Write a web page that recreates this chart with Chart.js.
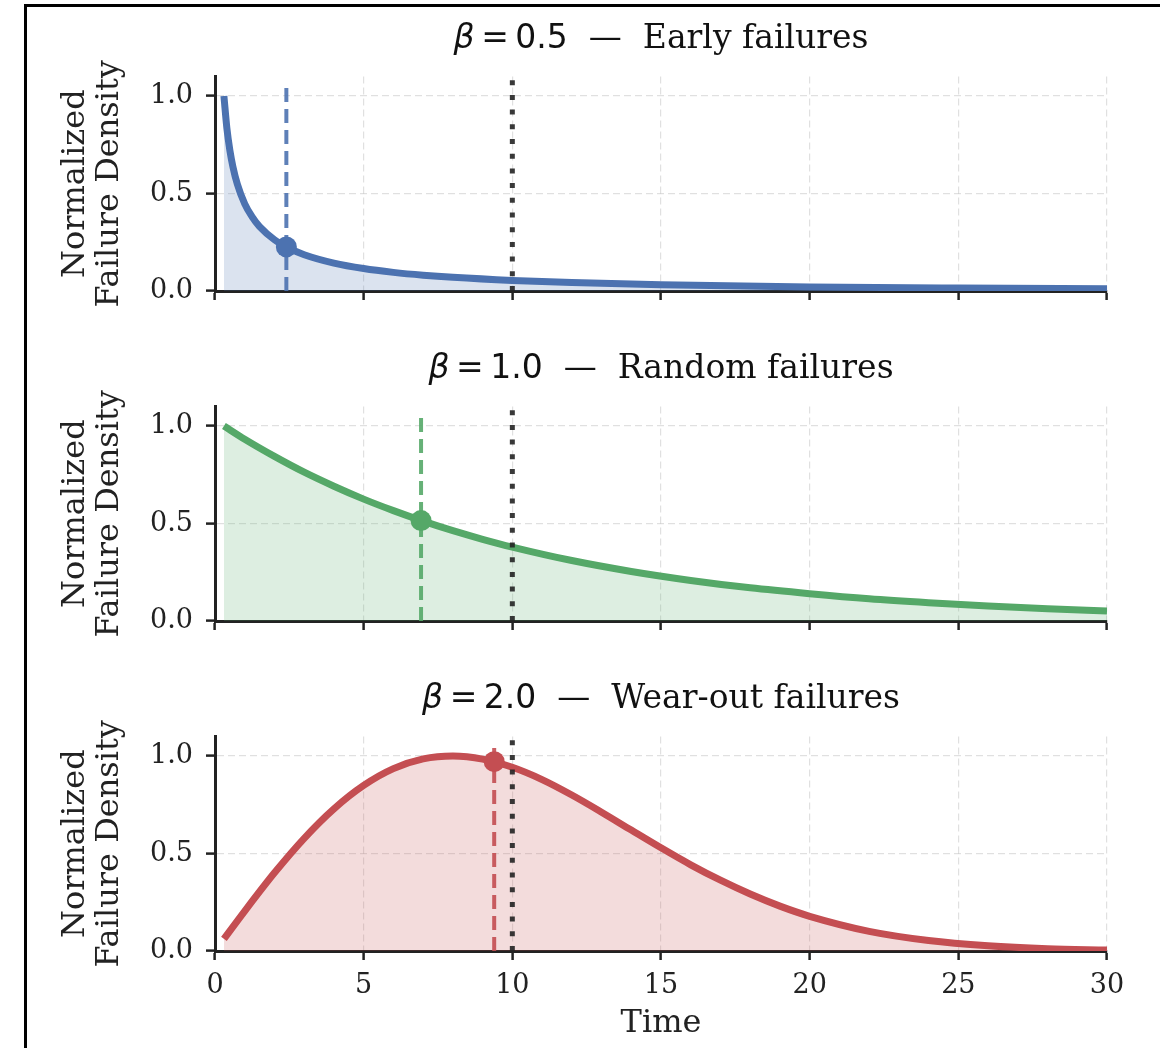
<!DOCTYPE html>
<html><head><meta charset="utf-8">
<script src="https://cdn.jsdelivr.net/npm/chart.js@4/dist/chart.umd.min.js"></script>
<style>
html,body{margin:0;padding:0;background:#fff;width:1160px;height:1048px;overflow:hidden;position:relative}
#frame{position:absolute;left:24px;top:4px;width:1200px;height:1100px;border-left:3px solid #000;border-top:3px solid #000;box-sizing:border-box}
canvas{position:absolute;left:0}
</style></head><body>
<div id="frame"></div>
<canvas id="c0" width="1160" height="330" style="top:0px"></canvas>
<canvas id="c1" width="1160" height="330" style="top:330px"></canvas>
<canvas id="c2" width="1160" height="388" style="top:660px"></canvas>
<script>
// ---- data ----
const xTicks = [0, 5, 10, 15, 20, 25, 30];
const yTicks = [0, 0.5, 1.0];

const timeEarly = [0.3,0.4,0.5,0.6,0.75,1,1.25,1.5,2,2.5,3,4,5,6,7,8,10,12,15,20,25,30];
const densEarly = [1.000,0.834,0.721,0.639,0.549,0.447,0.380,0.330,0.263,0.218,0.186,0.143,0.115,0.0955,0.081,0.070,0.054,0.043,0.032,0.021,0.015,0.011];

const timeRandom = [0.3,1,2,3,4,5,6,7,8,9,10,12,14,16,18,20,22,24,26,28,30];
const densRandom = [1.000,0.932,0.844,0.763,0.691,0.625,0.566,0.512,0.463,0.419,0.379,0.310,0.254,0.208,0.170,0.140,0.114,0.094,0.077,0.063,0.051];

const timeWear = [0.3,1,2,3,4,5,6,7,8,9,10,11,12,13,14,15,16,17,18,19,20,22,24,26,28,30];
const densWear = [0.062,0.205,0.401,0.578,0.729,0.849,0.935,0.985,1.000,0.984,0.942,0.879,0.800,0.712,0.620,0.529,0.442,0.363,0.292,0.230,0.178,0.101,0.054,0.027,0.012,0.005];

const medianTimes = [2.40, 6.93, 9.39];
const medianValues = [0.226, 0.515, 0.971];
const meanTime = 10;
const medianLineTop = 1.045;
const yMax = 1.1;

const betaValues = ['0.5', '1.0', '2.0'];
const regimeNames = ['Early failures', 'Random failures', 'Wear-out failures'];
const yAxisTitle = ['Normalized', 'Failure Density'];
const xAxisTitle = 'Time';

// ---- styles ----
const lineColors = ['#4C72B0', '#55A868', '#C44E52'];
const fillColors = ['rgba(76,114,176,0.2)', 'rgba(85,168,104,0.2)', 'rgba(196,78,82,0.2)'];
const dashColors = ['rgba(76,114,176,0.9)', 'rgba(85,168,104,0.9)', 'rgba(196,78,82,0.9)'];
const SERIF = '"DejaVu Serif", serif';
const SANS = '"DejaVu Sans", sans-serif';

const mixedTitle = {
  id: 'mixedTitle',
  afterDraw(chart, args, opts) {
    const ctx = chart.ctx;
    const {left, right} = chart.chartArea;
    const parts = opts.parts;
    ctx.save();
    ctx.textBaseline = 'alphabetic';
    ctx.textAlign = 'left';
    ctx.fillStyle = '#111';
    let total = 0;
    const widths = parts.map(p => { ctx.font = p.font; const w = ctx.measureText(p.text).width; total += w; return w; });
    let x = (left + right) / 2 - total / 2;
    parts.forEach((p, k) => { ctx.font = p.font; ctx.fillText(p.text, x, opts.baseline); x += widths[k]; });
    ctx.restore();
  }
};

const series = [[timeEarly, densEarly], [timeRandom, densRandom], [timeWear, densWear]];

function makeChart(i) {
  const isBottom = i === 2;
  const [times, vals] = series[i];
  const gridCfg = {color: 'rgba(0,0,0,0.12)', lineWidth: 1.2, drawTicks: true, tickLength: 9, tickColor: '#222', tickWidth: 2.5};
  const borderCfg = {display: true, color: '#222', width: 3, dash: [7, 4]};
  return new Chart(document.getElementById('c' + i), {
    type: 'line',
    data: {
      datasets: [
        {label: 'mean', data: [{x: meanTime, y: 0}, {x: meanTime, y: yMax}], borderColor: 'rgba(35,35,35,0.9)', borderWidth: 5, borderDash: [5, 9.7], borderCapStyle: 'butt', pointRadius: 0, fill: false, order: 0},
        {label: 'median', data: [{x: medianTimes[i], y: medianValues[i]}], showLine: false, pointRadius: 10.5, pointHoverRadius: 10.5, pointBackgroundColor: lineColors[i], pointBorderColor: lineColors[i], pointBorderWidth: 0, order: 1},
        {label: 'median line', data: [{x: medianTimes[i], y: 0}, {x: medianTimes[i], y: medianLineTop}], borderColor: dashColors[i], borderWidth: 4, borderDash: [14, 7], borderCapStyle: 'butt', pointRadius: 0, fill: false, order: 2},
        {label: 'density', data: times.map((t, j) => ({x: t, y: vals[j]})), borderColor: lineColors[i], borderWidth: 7, backgroundColor: fillColors[i], fill: 'origin', pointRadius: 0, cubicInterpolationMode: 'monotone', borderCapStyle: 'butt', order: 3}
      ]
    },
    options: {
      responsive: false, animation: false, devicePixelRatio: 1,
      layout: {padding: {left: 0, right: 53, top: 76.5, bottom: 0}},
      plugins: {
        legend: {display: false}, tooltip: {enabled: false}, title: {display: false},
        mixedTitle: {baseline: 48, parts: [
          {text: 'β', font: 'italic 33px ' + SANS},
          {text: '\u2009=\u2009' + betaValues[i], font: '33px ' + SANS},
          {text: '  —  ' + regimeNames[i], font: '33px ' + SERIF}
        ]}
      },
      scales: {
        x: {
          type: 'linear', min: 0, max: 30,
          afterBuildTicks: s => { s.ticks = xTicks.map(v => ({value: v})); },
          afterFit: s => { s.height = isBottom ? 97 : 39; },
          ticks: {display: isBottom, font: {family: SERIF, size: 27}, color: '#222', padding: 10, maxRotation: 0, autoSkip: false},
          grid: gridCfg, border: borderCfg,
          title: {display: isBottom, text: xAxisTitle, font: {family: SERIF, size: 32}, color: '#222', padding: {top: 0, bottom: 5}}
        },
        y: {
          type: 'linear', min: 0, max: yMax,
          afterBuildTicks: s => { s.ticks = yTicks.map(v => ({value: v})); },
          afterFit: s => { s.width = 215; },
          ticks: {font: {family: SERIF, size: 27}, color: '#222', padding: 13, callback: v => v.toFixed(1)},
          grid: gridCfg, border: borderCfg,
          title: {display: true, text: yAxisTitle, font: {family: SERIF, size: 32, lineHeight: 1.05}, color: '#222', padding: {top: 59, bottom: 0}}
        }
      }
    },
    plugins: [mixedTitle]
  });
}
[0, 1, 2].forEach(makeChart);
</script>
</body></html>
